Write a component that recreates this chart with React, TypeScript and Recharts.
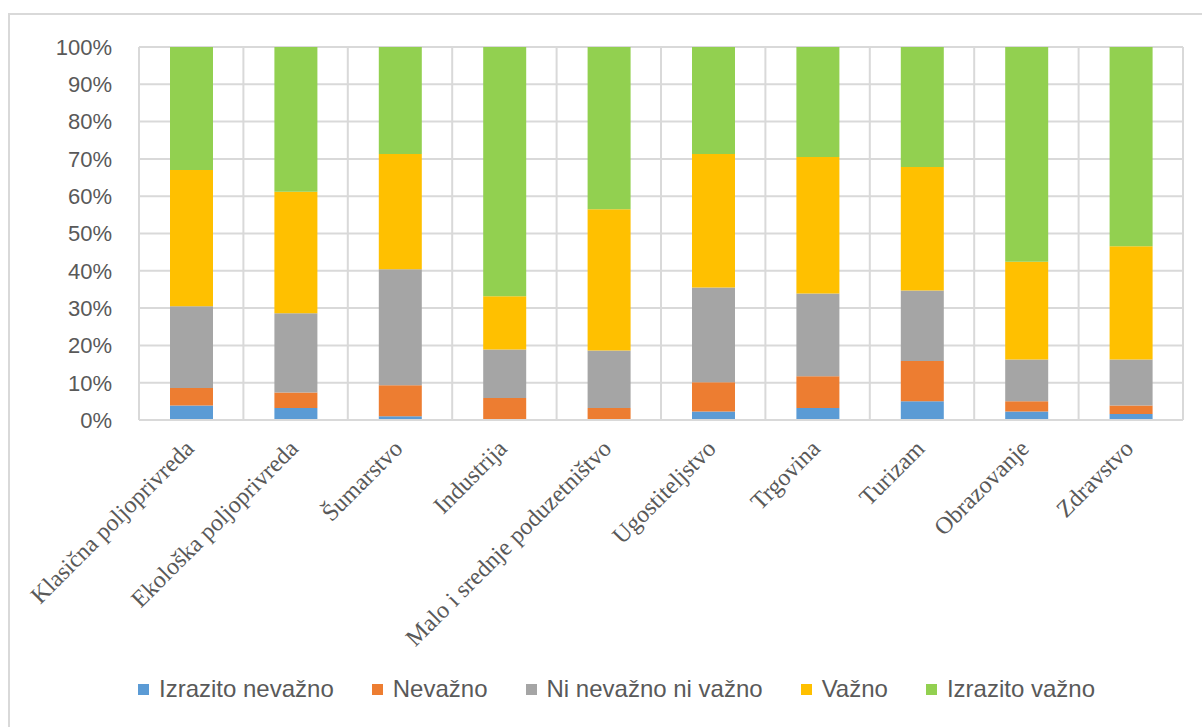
import React from 'react';
import { BarChart, Bar, XAxis, YAxis, CartesianGrid, Legend } from 'recharts';

const categories = [
  'Klasična poljoprivreda',
  'Ekološka poljoprivreda',
  'Šumarstvo',
  'Industrija',
  'Malo i srednje poduzetništvo',
  'Ugostiteljstvo',
  'Trgovina',
  'Turizam',
  'Obrazovanje',
  'Zdravstvo',
];

const izrazitoNevazno = [3.9, 3.2, 1.0, 0, 0, 2.3, 3.2, 5.0, 2.3, 1.6];
const nevazno = [4.7, 4.2, 8.3, 5.9, 3.2, 7.8, 8.5, 10.8, 2.7, 2.3];
const niNevaznoNiVazno = [21.9, 21.2, 31.1, 13.0, 15.4, 25.4, 22.2, 18.9, 11.2, 12.3];
const vazno = [36.5, 32.6, 30.9, 14.3, 37.9, 35.8, 36.6, 33.1, 26.2, 30.4];
const izrazitoVazno = [33.0, 38.8, 28.7, 66.8, 43.5, 28.7, 29.5, 32.2, 57.6, 53.4];

const yTicks = [0, 10, 20, 30, 40, 50, 60, 70, 80, 90, 100];

const seriesNames = ['Izrazito nevažno', 'Nevažno', 'Ni nevažno ni važno', 'Važno', 'Izrazito važno'];
const seriesKeys = ['s1', 's2', 's3', 's4', 's5'];
const seriesColors = ['#5B9BD5', '#ED7D31', '#A5A5A5', '#FFC000', '#92D050'];
const seriesValues = [izrazitoNevazno, nevazno, niNevaznoNiVazno, vazno, izrazitoVazno];

const data = categories.map((name, i) => {
  const row: Record<string, any> = { name };
  seriesKeys.forEach((k, j) => {
    row[k] = seriesValues[j][i];
  });
  return row;
});

const GRID = '#d9d9d9';
const TEXT = '#595959';

const CategoryTick = (props: any) => {
  const { x, y, payload } = props;
  return (
    <g transform={`translate(${x + 4},${y + 30})`}>
      <text
        transform="rotate(-45)"
        textAnchor="end"
        x={0}
        y={0}
        fill={TEXT}
        fontSize={24}
        fontFamily="'Liberation Serif', 'Times New Roman', serif"
      >
        {payload.value}
      </text>
    </g>
  );
};

const LegendContent = () => (
  <div
    style={{
      display: 'flex',
      flexDirection: 'row',
      alignItems: 'center',
      gap: 38,
      fontFamily: "'Liberation Sans', Arial, sans-serif",
      fontSize: 24,
      color: TEXT,
      whiteSpace: 'nowrap',
    }}
  >
    {seriesNames.map((n, i) => (
      <div key={n} style={{ display: 'flex', alignItems: 'center' }}>
        <span
          style={{
            display: 'inline-block',
            width: 11,
            height: 11,
            background: seriesColors[i],
            marginRight: 10,
          }}
        />
        <span>{n}</span>
      </div>
    ))}
  </div>
);

export default function App() {
  return (
    <div
      style={{
        position: 'absolute',
        left: 0,
        top: 0,
        width: 1202,
        height: 727,
        background: '#fff',
        overflow: 'hidden',
      }}
    >
      <div
        style={{
          position: 'absolute',
          left: 8,
          top: 13,
          width: 1300,
          height: 800,
          borderLeft: `2px solid ${GRID}`,
          borderTop: `2px solid ${GRID}`,
        }}
      />
      <div style={{ position: 'absolute', left: 0, top: 0 }}>
        <BarChart
          width={1202}
          height={727}
          data={data}
          margin={{ top: 47, right: 19, bottom: 0, left: 0 }}
          barSize={43}
        >
          <CartesianGrid
            stroke={GRID}
            strokeWidth={2}
            verticalCoordinatesGenerator={({ offset }: any) =>
              categories.map((_, i) => offset.left + (i * offset.width) / categories.length).concat([offset.left + offset.width])
            }
          />
          <XAxis
            dataKey="name"
            interval={0}
            height={307}
            tickLine={false}
            tickSize={0}
            tickMargin={0}
            axisLine={{ stroke: GRID, strokeWidth: 2 }}
            tick={<CategoryTick />}
          />
          <YAxis
            width={139}
            domain={[0, 100]}
            ticks={yTicks}
            interval={0}
            tickFormatter={(v: number) => `${v}%`}
            axisLine={false}
            tickLine={false}
            tickSize={0}
            tickMargin={27}
            tick={{ fill: TEXT, fontSize: 22, fontFamily: "'Liberation Sans', Arial, sans-serif" }}
          />
          <Legend
            layout="horizontal"
            verticalAlign="middle"
            align="center"
            content={<LegendContent />}
            wrapperStyle={{ left: 138, top: 675, width: 1050 }}
          />
          {seriesKeys.map((k, i) => (
            <Bar
              key={k}
              dataKey={k}
              name={seriesNames[i]}
              stackId="a"
              fill={seriesColors[i]}
              isAnimationActive={false}
            />
          ))}
        </BarChart>
      </div>
    </div>
  );
}
